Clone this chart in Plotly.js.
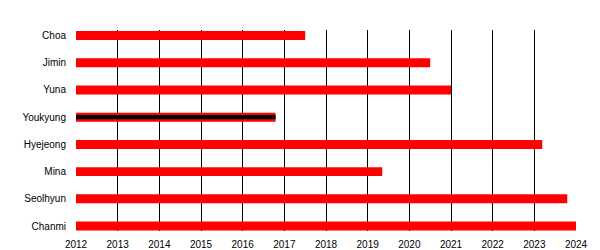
<!DOCTYPE html>
<html>
<head>
<meta charset="utf-8">
<script src="https://cdn.plot.ly/plotly-3.0.1.min.js"></script>
<style>html,body{margin:0;padding:0;background:#fff;}#chart{width:600px;height:250px;}</style>
</head>
<body>
<div id="chart"></div>
<script>
const members = ["Choa", "Jimin", "Yuna", "Youkyung", "Hyejeong", "Mina", "Seolhyun", "Chanmi"];
const startYears = [2012, 2012, 2012, 2012, 2012, 2012, 2012, 2012];
const endYears = [2017.5, 2020.5, 2021.0, 2016.79, 2023.19, 2019.35, 2023.79, 2024.0];
const overlayMembers = ["Youkyung"];
const overlayStart = [2012];
const overlayEnd = [2016.79];
const yearTicks = [2012, 2013, 2014, 2015, 2016, 2017, 2018, 2019, 2020, 2021, 2022, 2023, 2024];

const traces = [
  {
    type: "bar", orientation: "h",
    y: members,
    base: startYears,
    x: endYears.map((e, i) => e - startYears[i]),
    width: 0.33,
    marker: {color: "#ff0000", line: {width: 0}},
    hoverinfo: "skip"
  },
  {
    type: "bar", orientation: "h",
    y: overlayMembers,
    base: overlayStart,
    x: overlayEnd.map((e, i) => e - overlayStart[i]),
    width: 0.16,
    marker: {color: "#000000", line: {width: 0}},
    hoverinfo: "skip"
  }
];

const layout = {
  width: 600, height: 250,
  margin: {l: 76, r: 24, t: 30, b: 19},
  paper_bgcolor: "#ffffff", plot_bgcolor: "#ffffff",
  showlegend: false,
  barmode: "overlay",
  font: {family: "Liberation Sans, Arial, sans-serif", size: 10, color: "#000000"},
  xaxis: {
    range: [2012, 2024],
    tickvals: yearTicks,
    ticktext: yearTicks.map(String),
    showgrid: true, gridcolor: "#000000", gridwidth: 1,
    zeroline: false, showline: false, ticks: "",
    ticklabelstandoff: 6,
    fixedrange: true
  },
  yaxis: {
    type: "category",
    categoryorder: "array", categoryarray: members,
    range: [7.18, -0.2],
    showgrid: false, zeroline: false, showline: false, ticks: "",
    ticklabelstandoff: 9,
    fixedrange: true
  }
};

Plotly.newPlot("chart", traces, layout, {staticPlot: true, displayModeBar: false});
</script>
</body>
</html>
